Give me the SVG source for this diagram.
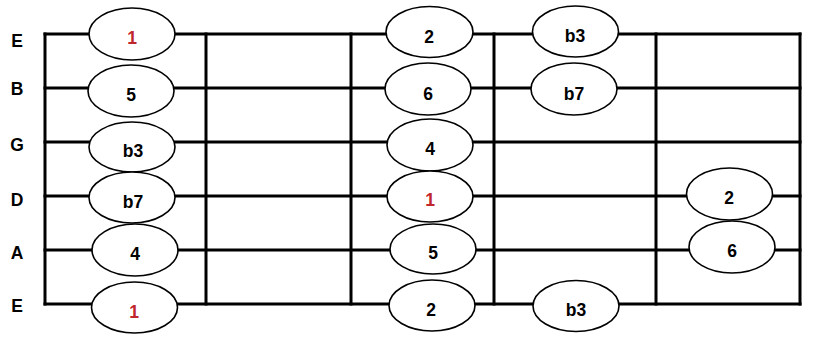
<svg xmlns="http://www.w3.org/2000/svg" width="819" height="349" viewBox="0 0 819 349">
<style>
.bg{fill:#ffffff}
.line{stroke:#000;stroke-width:3;fill:none;stroke-linecap:square}
.note ellipse{fill:#fff;stroke:#000;stroke-width:1.6}
text{font-family:"Liberation Sans",Arial,sans-serif;font-weight:bold;font-size:17.5px;text-anchor:middle;fill:#000}
.root{fill:#c0272d}
</style>
<rect class="bg" x="0" y="0" width="819" height="349"/>
<g id="string-labels">
<text x="17" y="47">E</text>
<text x="17" y="95">B</text>
<text x="17" y="151">G</text>
<text x="17" y="206">D</text>
<text x="17" y="259">A</text>
<text x="17" y="312">E</text>
</g>
<g id="fretboard">
<line class="line" x1="45" y1="34" x2="800" y2="34"/>
<line class="line" x1="45" y1="88" x2="800" y2="88"/>
<line class="line" x1="45" y1="142" x2="800" y2="142"/>
<line class="line" x1="45" y1="196" x2="800" y2="196"/>
<line class="line" x1="45" y1="250" x2="800" y2="250"/>
<line class="line" x1="45" y1="304" x2="800" y2="304"/>
<line class="line" x1="45" y1="34" x2="45" y2="304"/>
<line class="line" x1="206" y1="34" x2="206" y2="304"/>
<line class="line" x1="351" y1="34" x2="351" y2="304"/>
<line class="line" x1="494" y1="34" x2="494" y2="304"/>
<line class="line" x1="656" y1="34" x2="656" y2="304"/>
<line class="line" x1="800" y1="34" x2="800" y2="304"/>
</g>
<g id="n1" class="note"><ellipse cx="132" cy="34" rx="43" ry="26"/><text class="root" x="132" y="44">1</text></g>
<g id="n2" class="note"><ellipse cx="131" cy="91" rx="43" ry="26"/><text x="131" y="101">5</text></g>
<g id="n3" class="note"><ellipse cx="132" cy="147" rx="43" ry="25"/><text x="133" y="157">b3</text></g>
<g id="n4" class="note"><ellipse cx="132" cy="197.5" rx="43" ry="25.5"/><text x="133" y="208">b7</text></g>
<g id="n5" class="note"><ellipse cx="135" cy="250" rx="43" ry="26"/><text x="135" y="260">4</text></g>
<g id="n6" class="note"><ellipse cx="134.5" cy="307.5" rx="43" ry="25.5"/><text class="root" x="134" y="318">1</text></g>
<g id="n7" class="note"><ellipse cx="429.5" cy="32" rx="43.5" ry="25.5"/><text x="429" y="43">2</text></g>
<g id="n8" class="note"><ellipse cx="575.5" cy="31.5" rx="43" ry="25.5"/><text x="575" y="42">b3</text></g>
<g id="n9" class="note"><ellipse cx="428" cy="89" rx="43" ry="26"/><text x="428" y="100">6</text></g>
<g id="n10" class="note"><ellipse cx="574" cy="89" rx="43" ry="26"/><text x="574" y="100">b7</text></g>
<g id="n11" class="note"><ellipse cx="430" cy="145" rx="43" ry="26"/><text x="430" y="155">4</text></g>
<g id="n12" class="note"><ellipse cx="430" cy="196.5" rx="43" ry="25.5"/><text class="root" x="430" y="206">1</text></g>
<g id="n13" class="note"><ellipse cx="433" cy="249" rx="43" ry="25"/><text x="433" y="259">5</text></g>
<g id="n14" class="note"><ellipse cx="432" cy="305.5" rx="43" ry="25.5"/><text x="431" y="316">2</text></g>
<g id="n15" class="note"><ellipse cx="576" cy="306" rx="43" ry="25.5"/><text x="576" y="316">b3</text></g>
<g id="n16" class="note"><ellipse cx="729.5" cy="194" rx="43" ry="26"/><text x="729" y="204">2</text></g>
<g id="n17" class="note"><ellipse cx="732" cy="247" rx="43" ry="26"/><text x="732" y="257">6</text></g>
</svg>
